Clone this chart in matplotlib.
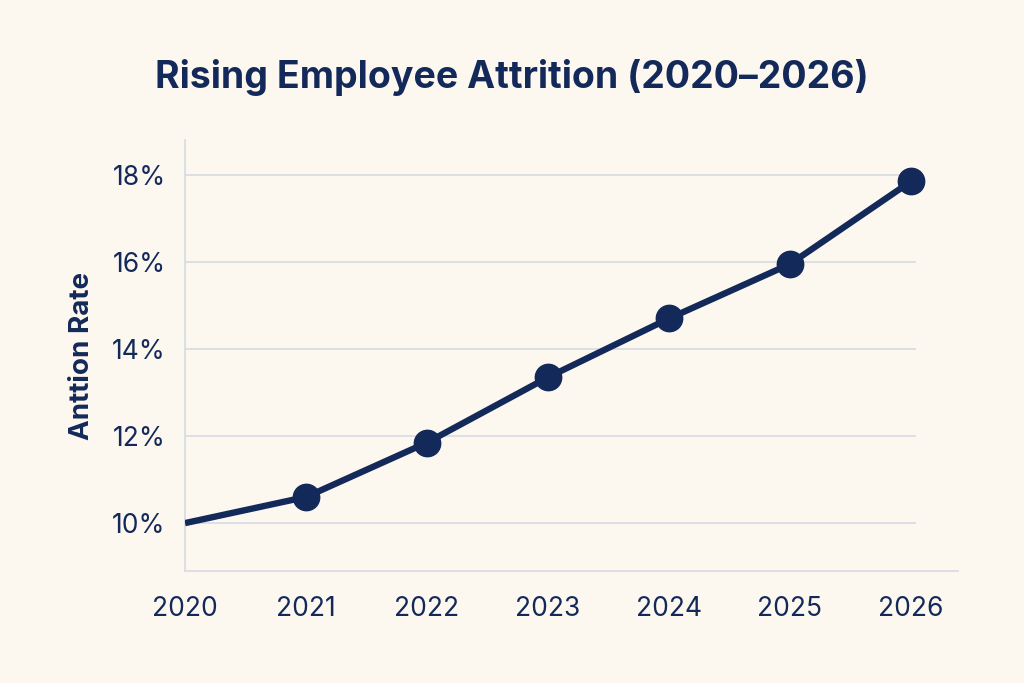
import matplotlib
matplotlib.use("Agg")
import matplotlib.pyplot as plt
from matplotlib.ticker import FuncFormatter

years = [2020, 2021, 2022, 2023, 2024, 2025, 2026]
attrition = [10.0, 10.6, 11.85, 13.35, 14.7, 15.95, 17.85]
yticks = [10, 12, 14, 16, 18]

navy = "#13295a"
bg = "#fdf8ef"
grid_col = "#d6dce4"

plt.rcParams["font.family"] = ["Inter", "DejaVu Sans"]

fig = plt.figure(figsize=(10.24, 6.83), dpi=100, facecolor=bg)
ax = fig.add_axes([0.1807, 0.164, 0.755, 0.631], facecolor=bg)

ax.set_xlim(2020, 2026.39)
ax.set_ylim(8.9, 18.8)

# gridlines stop just past the last year
ax.hlines(yticks, 2020, 2026.04, colors=grid_col, linewidth=1.2, zorder=1)

ax.plot(years, attrition, color=navy, linewidth=4.6, marker="o", markersize=19,
        markevery=list(range(1, len(years))), solid_capstyle="butt", zorder=3)

ax.set_xticks(years)
ax.set_yticks(yticks)
ax.yaxis.set_major_formatter(FuncFormatter(lambda v, p: f"{v:.0f}%"))
ax.tick_params(axis="both", length=0, labelsize=19, colors=navy)
ax.tick_params(axis="x", pad=18)
ax.tick_params(axis="y", pad=14)

for s in ["top", "right"]:
    ax.spines[s].set_visible(False)
for s in ["left", "bottom"]:
    ax.spines[s].set_color(grid_col)
    ax.spines[s].set_linewidth(1.2)

ax.set_ylabel("Anttion Rate", fontsize=20, fontweight="bold", color=navy, labelpad=12)

fig.text(0.5, 0.887, "Rising Employee Attrition (2020\u20132026)", ha="center", va="center",
         fontsize=27, fontweight="bold", color=navy)

fig.savefig("out.png", dpi=100, facecolor=bg)
